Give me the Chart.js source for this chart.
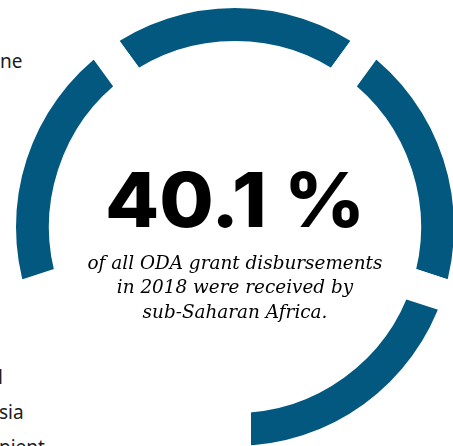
<!DOCTYPE html>
<html>
<head>
<meta charset="utf-8">
<script src="https://cdn.jsdelivr.net/npm/chart.js@4.4.1/dist/chart.umd.min.js"></script>
<style>
  html, body { margin: 0; padding: 0; background: #fff; overflow: hidden; width: 453px; height: 446px; }
  #wrap { position: absolute; left: -16px; top: -24px; width: 502px; height: 502px; }
  .side { position: absolute; font-family: "Noto Sans", sans-serif; font-size: 19px; color: #1b1b1b; line-height: 1; white-space: nowrap; }
</style>
</head>
<body>
<div class="side" style="left:0px; top:52px;">ne</div>
<div class="side" style="left:-2px; top:368px;">l</div>
<div class="side" style="left:-1px; top:403px;">sia</div>
<div class="side" style="left:-1px; top:438px;">pient</div>
<div id="wrap"><canvas id="ring" width="502" height="502"></canvas></div>
<script>
// ring segments: five equal slices, one left blank
const segments = ['1', '2', '3', '4', '5'];
const segmentValues = [20, 20, 20, 20, 20];
const segmentColors = ['#03587f', '#03587f', '#03587f', 'rgba(0,0,0,0)', '#03587f'];

const headline = '40.1 %';
const caption = [
  'of all ODA grant disbursements',
  'in 2018 were received by',
  'sub-Saharan Africa.'
];

// headline + caption in the middle of the ring
const centerText = {
  id: 'centerText',
  afterDraw(chart) {
    const ctx = chart.ctx;
    const a = chart.chartArea;
    const cx = (a.left + a.right) / 2;
    const cy = (a.top + a.bottom) / 2;
    ctx.save();
    ctx.fillStyle = '#000';
    ctx.textBaseline = 'alphabetic';
    ctx.textAlign = 'center';

    ctx.font = '800 76px Inter, sans-serif';
    const w = ctx.measureText(headline).width;
    const sx = 260 / w;
    ctx.save();
    ctx.translate(cx, cy);
    ctx.scale(sx, 1);
    ctx.fillText(headline, 0, 0);
    ctx.restore();

    let size = 18;
    ctx.font = 'italic ' + size + 'px "DejaVu Serif", serif';
    size = size * 295 / ctx.measureText(caption[0]).width;
    ctx.font = 'italic ' + size.toFixed(2) + 'px "DejaVu Serif", serif';
    const offs = [42, 66, 91];
    caption.forEach((line, i) => ctx.fillText(line, cx, cy + offs[i]));
    ctx.restore();
  }
};

new Chart(document.getElementById('ring'), {
  type: 'doughnut',
  data: {
    labels: segments,
    datasets: [{
      data: segmentValues,
      backgroundColor: segmentColors,
      borderColor: '#ffffff',
      borderWidth: 32,
      hoverOffset: 0
    }]
  },
  options: {
    responsive: false,
    animation: false,
    rotation: -36,
    cutout: '72.34%',
    layout: { padding: 0 },
    plugins: {
      legend: { display: false },
      tooltip: { enabled: false }
    }
  },
  plugins: [centerText]
});
</script>
</body>
</html>
